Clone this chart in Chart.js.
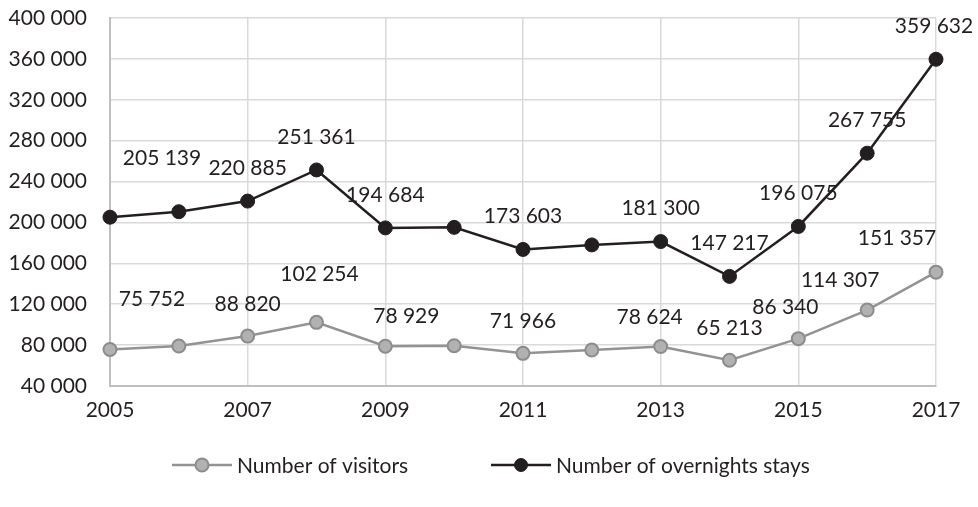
<!DOCTYPE html>
<html>
<head>
<meta charset="utf-8">
<script src="https://cdn.jsdelivr.net/npm/chart.js@4/dist/chart.umd.min.js"></script>
<style>
html,body{margin:0;padding:0;background:#fff;}
#wrap{width:978px;height:507px;position:relative;}
</style>
</head>
<body>
<div id="wrap"><canvas id="c" width="978" height="507"></canvas></div>
<script>
const years = [2005, 2006, 2007, 2008, 2009, 2010, 2011, 2012, 2013, 2014, 2015, 2016, 2017];
const visitors = [75752, 79100, 88820, 102254, 78929, 79400, 71966, 75200, 78624, 65213, 86340, 114307, 151357];
const overnights = [205139, 210500, 220885, 251361, 194684, 195200, 173603, 178000, 181300, 147217, 196075, 267755, 359632];
const labelledIdx = [0, 2, 3, 4, 6, 8, 9, 10, 11, 12];
const yMin = 40000, yMax = 400000, yStep = 40000;
const seriesNames = ['Number of visitors', 'Number of overnights stays'];

const FONT = 'Lato, "Open Sans", sans-serif';
const TXT = '#231f20';

function fmt(n){ return String(Math.round(n)).replace(/\B(?=(\d{3})+(?!\d))/g, ' '); }

// label placement tweaks (styling only)
const labelShift = [
  {def:{dx:0,dy:-32}, 0:{dx:42,dy:-50}, 3:{dx:3,dy:-48}, 4:{dx:21,dy:-30}, 8:{dx:-11,dy:-29}, 10:{dx:-13,dy:-31}, 11:{dx:-27,dy:-30}, 12:{dx:-39,dy:-34}},
  {def:{dx:0,dy:-33}, 0:{dx:52,dy:-59}, 12:{dx:-2,dy:-33}}
];

const dataLabels = {
  id:'dataLabels',
  afterDatasetsDraw(chart){
    const ctx = chart.ctx;
    ctx.save();
    ctx.font = '21px ' + FONT;
    ctx.fillStyle = TXT;
    ctx.textAlign = 'center';
    ctx.textBaseline = 'middle';
    chart.data.datasets.forEach((ds, di) => {
      const meta = chart.getDatasetMeta(di);
      labelledIdx.forEach(i => {
        const p = meta.data[i];
        const s = labelShift[di][i] || labelShift[di].def;
        ctx.fillText(fmt(ds.data[i]), p.x + s.dx, p.y + s.dy);
      });
    });
    ctx.restore();
  }
};

const customLegend = {
  id:'customLegend',
  afterDraw(chart){
    const ctx = chart.ctx;
    const y = 465;
    const items = [
      {x0:172, ds:chart.data.datasets[0]},
      {x0:491, ds:chart.data.datasets[1]}
    ];
    ctx.save();
    items.forEach(it => {
      const ds = it.ds;
      ctx.strokeStyle = ds.borderColor;
      ctx.lineWidth = ds.borderWidth;
      ctx.beginPath(); ctx.moveTo(it.x0, y); ctx.lineTo(it.x0 + 60, y); ctx.stroke();
      ctx.beginPath(); ctx.arc(it.x0 + 30, y, 6.5, 0, Math.PI*2);
      ctx.fillStyle = ds.pointBackgroundColor; ctx.fill();
      ctx.lineWidth = ds.pointBorderWidth; ctx.strokeStyle = ds.pointBorderColor; ctx.stroke();
      ctx.font = '21px ' + FONT;
      ctx.fillStyle = TXT;
      ctx.textAlign = 'left';
      ctx.textBaseline = 'middle';
      ctx.fillText(ds.label, it.x0 + 65, y + 1);
    });
    ctx.restore();
  }
};

new Chart(document.getElementById('c'), {
  type:'line',
  data:{
    labels: years,
    datasets:[
      {
        label: seriesNames[0],
        data: visitors,
        borderColor:'#939393',
        borderWidth:2.5,
        pointBackgroundColor:'#b1b1b1',
        pointBorderColor:'#8c8c8c',
        pointBorderWidth:2,
        pointRadius:6.5,
        tension:0
      },
      {
        label: seriesNames[1],
        data: overnights,
        borderColor:'#231f20',
        borderWidth:2.5,
        pointBackgroundColor:'#231f20',
        pointBorderColor:'#231f20',
        pointBorderWidth:1,
        pointRadius:7,
        tension:0
      }
    ]
  },
  options:{
    responsive:false,
    animation:false,
    devicePixelRatio:1,
    layout:{padding:{top:0, right:42, bottom:81, left:0}},
    plugins:{legend:{display:false}, tooltip:{enabled:false}},
    scales:{
      x:{
        type:'category',
        offset:false,
        grid:{color:'#d9d9d9', lineWidth:1.5, drawTicks:false},
        border:{color:'#bfbfbf', width:2},
        ticks:{
          autoSkip:false, maxRotation:0, padding:12,
          font:{family:FONT, size:21}, color:TXT,
          callback:function(v, i){ return i % 2 === 0 ? String(years[i]) : null; }
        },
        afterFit(s){ s.height = 40; s.paddingLeft = 0; s.paddingRight = 0; }
      },
      y:{
        min:yMin, max:yMax,
        grid:{color:'#d9d9d9', lineWidth:1.5, drawTicks:false},
        border:{color:'#bfbfbf', width:2},
        ticks:{
          stepSize:yStep, padding:23,
          font:{family:FONT, size:21}, color:TXT,
          callback:function(v){ return fmt(v); }
        },
        afterFit(s){ s.width = 110; s.paddingTop = 18; s.paddingBottom = 0; }
      }
    }
  },
  plugins:[dataLabels, customLegend]
});
</script>
</body>
</html>
